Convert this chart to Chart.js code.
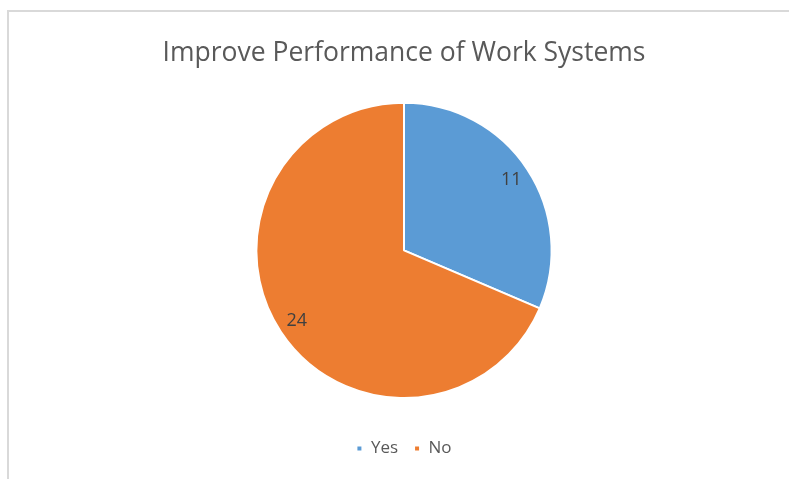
<!DOCTYPE html>
<html>
<head>
<meta charset="utf-8">
<script src="https://cdn.jsdelivr.net/npm/chart.js@4"></script>
<style>
  html, body { margin: 0; padding: 0; background: #fff; overflow: hidden; }
  #wrap { position: relative; width: 789px; height: 479px; overflow: hidden; }
  #frame { position: absolute; left: 7px; top: 10px; right: -10px; bottom: -10px;
           border-left: 2px solid #d9d9d9; border-top: 2px solid #d9d9d9; }
  canvas { position: absolute; left: 0; top: 0; }
</style>
</head>
<body>
<div id="wrap">
  <div id="frame"></div>
  <canvas id="pie" width="789" height="467"></canvas>
</div>
<script>
const categories = ['Yes', 'No']
const counts = [11, 24]
const colors = ['#5b9bd5', '#ed7d31']

// draw the count inside each slice, like Excel's data labels
const sliceLabels = {
    id: 'sliceLabels',
    afterDatasetsDraw(chart) {
        const ctx = chart.ctx
        const meta = chart.getDatasetMeta(0)
        ctx.save()
        ctx.font = '18px "Open Sans"'
        ctx.fillStyle = '#404040'
        ctx.textAlign = 'center'
        ctx.textBaseline = 'middle'
        meta.data.forEach((arc, i) => {
            const mid = (arc.startAngle + arc.endAngle) / 2
            const r = arc.outerRadius * 0.87
            ctx.fillText(String(counts[i]), arc.x + Math.cos(mid) * r, arc.y + Math.sin(mid) * r)
        })
        ctx.restore()
    }
}

new Chart(document.getElementById('pie'), {
    type: 'pie',
    data: {
        labels: categories,
        datasets: [{
            data: counts,
            backgroundColor: colors,
            borderColor: '#ffffff',
            borderWidth: 2
        }]
    },
    options: {
        responsive: false,
        animation: false,
        layout: { padding: { left: 19, right: 0, top: 0, bottom: 0 } },
        plugins: {
            title: {
                display: true,
                text: 'Improve Performance of Work Systems',
                color: '#595959',
                font: { family: 'Open Sans', size: 26.5, weight: 'normal' },
                padding: { top: 38, bottom: 32 }
            },
            legend: {
                position: 'bottom',
                // empty legend title only used as a spacer above the items
                title: {
                    display: true,
                    text: '',
                    font: { size: 10 },
                    padding: { top: 0, bottom: 13 }
                },
                labels: {
                    color: '#595959',
                    font: { family: 'Open Sans', size: 17 },
                    boxWidth: 6,
                    boxHeight: 6,
                    padding: 16
                }
            },
            tooltip: { enabled: false }
        }
    },
    plugins: [sliceLabels]
})
</script>
</body>
</html>
